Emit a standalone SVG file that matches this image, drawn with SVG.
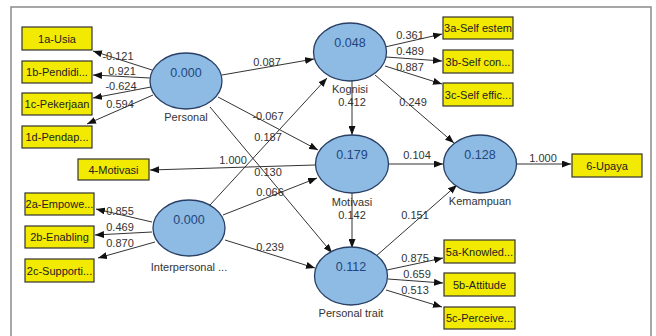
<svg xmlns="http://www.w3.org/2000/svg" width="656" height="336" viewBox="0 0 656 336">
<defs>
<marker id="ah" markerUnits="userSpaceOnUse" markerWidth="9" markerHeight="7" refX="9" refY="3.5" orient="auto">
<path d="M0,0 L9,3.5 L0,7 z" fill="#111"/>
</marker>
<style>
.bg{fill:#fff}
.frame{fill:none;stroke:#8a8a8a;stroke-width:1.5}
.box{fill:#f2ea00;stroke:#333;stroke-width:1.2}
.btx{font-family:"Liberation Sans",Arial,sans-serif;font-size:11px;fill:#222;text-anchor:middle}
.lv{fill:#8dbbe3;stroke:#2a3f66;stroke-width:1.3}
.val{font-family:"Liberation Sans",Arial,sans-serif;font-size:12.5px;fill:#23457d;text-anchor:middle}
.nm{font-family:"Liberation Sans",Arial,sans-serif;font-size:11px;fill:#333;text-anchor:middle}
.ln{stroke:#333;stroke-width:1;fill:none;marker-end:url(#ah)}
.lb{font-family:"Liberation Sans",Arial,sans-serif;font-size:11px;fill:#333;text-anchor:middle}
</style>
</defs>
<rect class="bg" x="0" y="0" width="656" height="336"/>
<rect class="frame" x="11" y="7" width="640" height="345"/>

<g id="connectors">
<line class="ln" x1="152" y1="70" x2="93" y2="51"/>
<line class="ln" x1="150" y1="78" x2="93" y2="75"/>
<line class="ln" x1="151" y1="87" x2="93" y2="98"/>
<line class="ln" x1="153" y1="95" x2="87" y2="124"/>
<line class="ln" x1="222" y1="75" x2="314" y2="59"/>
<line class="ln" x1="218" y1="97" x2="318" y2="150"/>
<line class="ln" x1="210" y1="107" x2="332" y2="253"/>
<line class="ln" x1="210" y1="205" x2="327" y2="78"/>
<line class="ln" x1="223" y1="215" x2="317" y2="178"/>
<line class="ln" x1="225" y1="240" x2="315" y2="268"/>
<line class="ln" x1="152" y1="222" x2="96" y2="209"/>
<line class="ln" x1="152" y1="232" x2="95" y2="235"/>
<line class="ln" x1="155" y1="242" x2="98" y2="258"/>
<line class="ln" x1="385" y1="47" x2="442" y2="34"/>
<line class="ln" x1="386" y1="57" x2="442" y2="61"/>
<line class="ln" x1="385" y1="66" x2="442" y2="84"/>
<line class="ln" x1="352" y1="81" x2="352" y2="135"/>
<line class="ln" x1="375" y1="75" x2="454" y2="143"/>
<line class="ln" x1="315" y1="165" x2="150" y2="170"/>
<line class="ln" x1="389" y1="164" x2="443" y2="164"/>
<line class="ln" x1="352" y1="193" x2="352" y2="248"/>
<line class="ln" x1="375" y1="257" x2="457" y2="185"/>
<line class="ln" x1="517" y1="164" x2="571" y2="164"/>
<line class="ln" x1="387" y1="270" x2="443" y2="258"/>
<line class="ln" x1="388" y1="279" x2="443" y2="283"/>
<line class="ln" x1="386" y1="290" x2="442" y2="307"/>
<text class="lb" x="118" y="60">-0.121</text>
<text class="lb" x="122" y="75">0.921</text>
<text class="lb" x="121" y="90">-0.624</text>
<text class="lb" x="120" y="108">0.594</text>
<text class="lb" x="267" y="66">0.087</text>
<text class="lb" x="268" y="120">-0.067</text>
<text class="lb" x="268" y="141">0.187</text>
<text class="lb" x="233" y="164">1.000</text>
<text class="lb" x="268" y="176">0.130</text>
<text class="lb" x="270" y="196">0.066</text>
<text class="lb" x="270" y="251">0.239</text>
<text class="lb" x="120" y="215">0.855</text>
<text class="lb" x="120" y="231">0.469</text>
<text class="lb" x="120" y="247">0.870</text>
<text class="lb" x="410" y="39">0.361</text>
<text class="lb" x="410" y="55">0.489</text>
<text class="lb" x="410" y="71">0.887</text>
<text class="lb" x="352" y="106">0.412</text>
<text class="lb" x="413" y="106">0.249</text>
<text class="lb" x="417" y="159">0.104</text>
<text class="lb" x="352" y="219">0.142</text>
<text class="lb" x="415" y="219">0.151</text>
<text class="lb" x="543" y="162">1.000</text>
<text class="lb" x="415" y="262">0.875</text>
<text class="lb" x="417" y="278">0.659</text>
<text class="lb" x="415" y="294">0.513</text>
</g>

<g id="personal">
<ellipse class="lv" cx="186" cy="81" rx="36" ry="28"/>
<text class="val" x="186" y="77">0.000</text>
<text class="nm" x="186" y="121">Personal</text>
</g>
<g id="interpersonal">
<ellipse class="lv" cx="189" cy="228" rx="36" ry="28"/>
<text class="val" x="189" y="224">0.000</text>
<text class="nm" x="189" y="271">Interpersonal ...</text>
</g>
<g id="kognisi">
<ellipse class="lv" cx="350" cy="52" rx="36.5" ry="29"/>
<text class="val" x="350" y="47">0.048</text>
<text class="nm" x="350" y="93">Kognisi</text>
</g>
<g id="motivasi">
<ellipse class="lv" cx="352" cy="164" rx="36.5" ry="29"/>
<text class="val" x="352" y="159">0.179</text>
<text class="nm" x="352" y="206">Motivasi</text>
</g>
<g id="kemampuan">
<ellipse class="lv" cx="480" cy="164" rx="36.5" ry="29"/>
<text class="val" x="480" y="159">0.128</text>
<text class="nm" x="480" y="205">Kemampuan</text>
</g>
<g id="personal-trait">
<ellipse class="lv" cx="351" cy="276" rx="36.5" ry="29"/>
<text class="val" x="351" y="271">0.112</text>
<text class="nm" x="351" y="317">Personal trait</text>
</g>

<g id="i1a"><rect class="box" x="22" y="27" width="70" height="23"/><text class="btx" x="57" y="42.5">1a-Usia</text></g>
<g id="i1b"><rect class="box" x="22" y="61" width="70" height="22"/><text class="btx" x="57" y="76">1b-Pendidi...</text></g>
<g id="i1c"><rect class="box" x="22" y="93" width="70" height="22"/><text class="btx" x="57" y="108">1c-Pekerjaan</text></g>
<g id="i1d"><rect class="box" x="22" y="126" width="70" height="22"/><text class="btx" x="57" y="141">1d-Pendap...</text></g>
<g id="i4"><rect class="box" x="78" y="159" width="71" height="21"/><text class="btx" x="113.5" y="173.5">4-Motivasi</text></g>
<g id="i2a"><rect class="box" x="25" y="193" width="69" height="22"/><text class="btx" x="59.5" y="208">2a-Empowe...</text></g>
<g id="i2b"><rect class="box" x="25" y="226" width="69" height="22"/><text class="btx" x="59.5" y="241">2b-Enabling</text></g>
<g id="i2c"><rect class="box" x="25" y="259" width="69" height="23"/><text class="btx" x="59.5" y="274.5">2c-Supporti...</text></g>
<g id="i3a"><rect class="box" x="443" y="17" width="70" height="22"/><text class="btx" x="478" y="32">3a-Self estem</text></g>
<g id="i3b"><rect class="box" x="443" y="50" width="70" height="23"/><text class="btx" x="478" y="65.5">3b-Self con...</text></g>
<g id="i3c"><rect class="box" x="443" y="83" width="70" height="23"/><text class="btx" x="478" y="98.5">3c-Self effic...</text></g>
<g id="i6"><rect class="box" x="572" y="154" width="70" height="23"/><text class="btx" x="607" y="169.5">6-Upaya</text></g>
<g id="i5a"><rect class="box" x="444" y="240" width="71" height="23"/><text class="btx" x="479.5" y="255.5">5a-Knowled...</text></g>
<g id="i5b"><rect class="box" x="444" y="273" width="71" height="23"/><text class="btx" x="479.5" y="288.5">5b-Attitude</text></g>
<g id="i5c"><rect class="box" x="444" y="307" width="71" height="22"/><text class="btx" x="479.5" y="322">5c-Perceive...</text></g>
</svg>
